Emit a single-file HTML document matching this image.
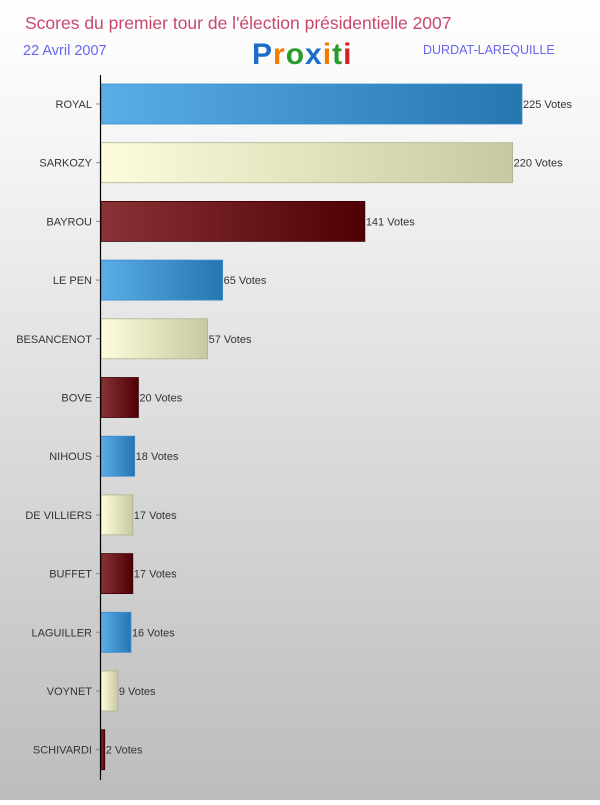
<!DOCTYPE html>
<html><head><meta charset="utf-8"><style>
body{margin:0;width:600px;height:800px;overflow:hidden;font-family:"Liberation Sans",sans-serif}
</style></head><body>
<svg width="600" height="800" xmlns="http://www.w3.org/2000/svg">
<defs>
<linearGradient id="bg" x1="0" y1="0" x2="0" y2="1"><stop offset="0" stop-color="#ffffff"/><stop offset="0.15" stop-color="#f7f7f7"/><stop offset="1" stop-color="#bcbcbc"/></linearGradient>
<linearGradient id="g0" x1="0" x2="1"><stop offset="0" stop-color="#5aaee8"/><stop offset="1" stop-color="#2676b0"/></linearGradient>
<linearGradient id="g1" x1="0" x2="1"><stop offset="0" stop-color="#fdfddc"/><stop offset="1" stop-color="#c8c8a2"/></linearGradient>
<linearGradient id="g2" x1="0" x2="1"><stop offset="0" stop-color="#8a3236"/><stop offset="1" stop-color="#4e0005"/></linearGradient>
</defs>
<rect width="600" height="800" fill="url(#bg)"/>
<text x="25" y="29" font-size="17.5" fill="#c8486a">Scores du premier tour de l'élection présidentielle 2007</text>
<text x="23" y="55" font-size="14.5" fill="#6666ee">22 Avril 2007</text>
<text x="423" y="54" font-size="12.5" fill="#6666ee">DURDAT-LAREQUILLE</text>
<g font-size="30" font-weight="bold" letter-spacing="1"><text x="252" y="64"><tspan fill="#1a6ec8">P</tspan><tspan fill="#f07c00">r</tspan><tspan fill="#2a9a2a">o</tspan><tspan fill="#1a6ec8">x</tspan><tspan fill="#f07c00">i</tspan><tspan fill="#2a9a2a">t</tspan><tspan fill="#d02020">i</tspan></text></g>
<g id="bars"></g>
<line x1="100.5" y1="75" x2="100.5" y2="780" stroke="#000" stroke-width="1.2"/>
</svg>
<script>
const categories=["ROYAL","SARKOZY","BAYROU","LE PEN","BESANCENOT","BOVE","NIHOUS","DE VILLIERS","BUFFET","LAGUILLER","VOYNET","SCHIVARDI"];
const votes=[225,220,141,65,57,20,18,17,17,16,9,2];
const maxVote=225;
const g=document.getElementById('bars');
const NS="http://www.w3.org/2000/svg";
const x=v=>101+v*(421/maxVote);
const y=i=>104+i*58.7;
categories.forEach((c,i)=>{
  const cy=y(i);
  const r=document.createElementNS(NS,'rect');
  r.setAttribute('x',101);r.setAttribute('y',cy-20);
  r.setAttribute('width',Math.max(1,x(votes[i])-101));r.setAttribute('height',40);
  r.setAttribute('fill','url(#g'+(i%3)+')');
  r.setAttribute('stroke',['#3a8ad0','#b0b090','#3a0004'][i%3]);r.setAttribute('stroke-width','0.8');
  
  
  g.appendChild(r);
  const t=document.createElementNS(NS,'text');
  t.setAttribute('x',92);t.setAttribute('y',cy+4);t.setAttribute('text-anchor','end');
  t.setAttribute('font-size','11');t.setAttribute('fill','#333');
  t.textContent=c;
  
  
  g.appendChild(t);
  const tk=document.createElementNS(NS,'line');
  tk.setAttribute('x1',96);tk.setAttribute('x2',100);tk.setAttribute('y1',cy);tk.setAttribute('y2',cy);tk.setAttribute('stroke','#888');
  
  
  g.appendChild(tk);
  const v=document.createElementNS(NS,'text');
  v.setAttribute('x',x(votes[i])+1);v.setAttribute('y',cy+4);
  v.setAttribute('font-size','11');v.setAttribute('fill','#333');
  v.textContent=votes[i]+' Votes';
  
  
  g.appendChild(v);
});
</script>
</body></html>
